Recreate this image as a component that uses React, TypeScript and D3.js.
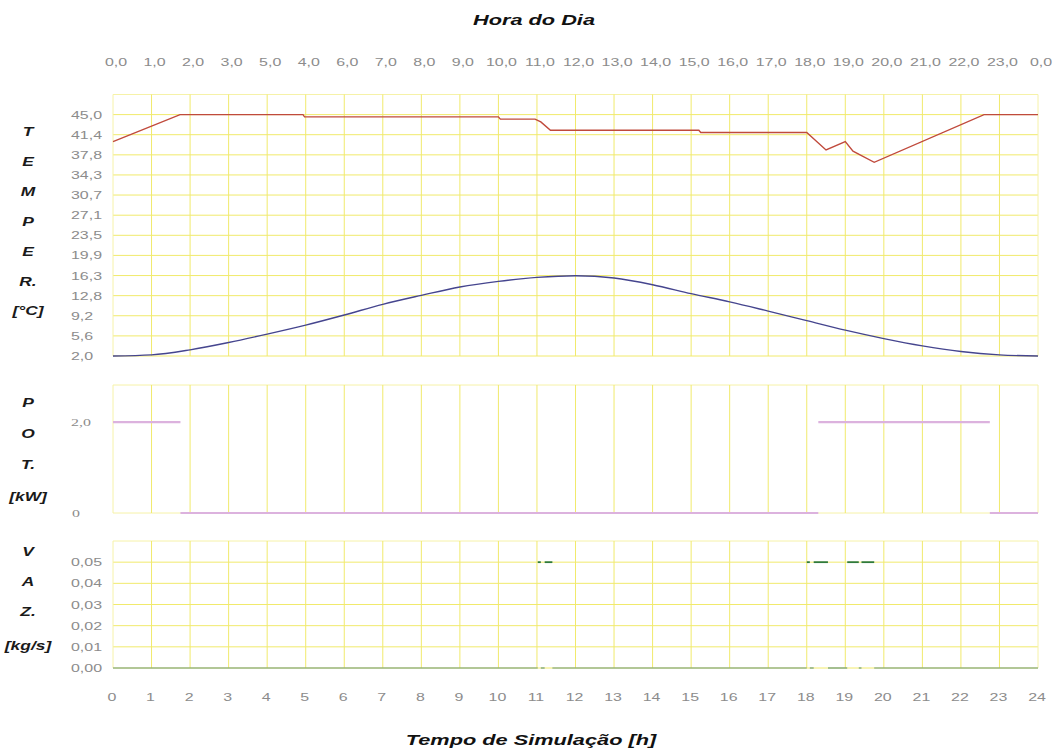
import React from "react";
import * as d3 from "d3";

// ---------- data ----------
const hourTicks = [0, 1, 2, 3, 4, 5, 6, 7, 8, 9, 10, 11, 12, 13, 14, 15, 16, 17, 18, 19, 20, 21, 22, 23, 24];
const dayHourLabels = ["0,0", "1,0", "2,0", "3,0", "5,0", "4,0", "6,0", "7,0", "8,0", "9,0", "10,0", "11,0", "12,0", "13,0", "14,0", "15,0", "16,0", "17,0", "18,0", "19,0", "20,0", "21,0", "22,0", "23,0", "0,0"];

const tempTickValues = [2.0, 5.58, 9.17, 12.75, 16.33, 19.92, 23.5, 27.08, 30.67, 34.25, 37.83, 41.42, 45.0];
const tempTickLabels = ["2,0", "5,6", "9,2", "12,8", "16,3", "19,9", "23,5", "27,1", "30,7", "34,3", "37,8", "41,4", "45,0"];

const potTickValues = [0, 2];
const potTickLabels = ["0", "2,0"];

const vazTickValues = [0, 0.01, 0.02, 0.03, 0.04, 0.05];
const vazTickLabels = ["0,00", "0,01", "0,02", "0,03", "0,04", "0,05"];

// tank water temperature
const tankHours = [0, 1.74, 4.93, 4.97, 10.0, 10.05, 10.95, 11.1, 11.35, 15.2, 15.25, 18.0, 18.5, 19.0, 19.2, 19.75, 22.6, 24];
const tankTemp = [40.2, 45.0, 45.0, 44.6, 44.6, 44.2, 44.2, 43.7, 42.2, 42.2, 41.8, 41.8, 38.7, 40.2, 38.5, 36.5, 45.0, 45.0];

// ambient temperature
const ambHours = [0, 1, 2, 3, 4, 5, 6, 7, 8, 9, 10, 11, 12, 13, 14, 15, 16, 17, 18, 19, 20, 21, 22, 23, 24];
const ambTemp = [2.0, 2.2, 3.1, 4.4, 5.9, 7.5, 9.3, 11.2, 12.8, 14.3, 15.3, 16.0, 16.3, 15.9, 14.7, 13.1, 11.65, 10.0, 8.3, 6.6, 5.1, 3.8, 2.8, 2.2, 2.0];

// heater power (step segments)
const powStart = [0, 1.75, 18.3, 22.75];
const powEnd = [1.75, 18.3, 22.75, 24];
const powValue = [2, 0, 2, 0];

// hot water flow (step segments)
const flowStart = [0, 11.02, 11.1, 11.2, 11.4, 18.0, 18.08, 18.18, 18.55, 19.05, 19.35, 19.42, 19.75];
const flowEnd = [11.02, 11.1, 11.2, 11.4, 18.0, 18.08, 18.18, 18.55, 19.05, 19.35, 19.42, 19.75, 24];
const flowValue = [0, 0.05, 0, 0.05, 0, 0.05, 0, 0.05, 0, 0.05, 0, 0.05, 0];

// ---------- layout ----------
const W = 1055;
const H = 753;
const X0 = 113;
const X1 = 1038;
const SX = 1.45; // horizontal stretch of the text

const GRID = "#f1ea6c";
const GRID_LIGHT = "#f6f2a8";
const TICK = "#8c8c8c";

const x = d3.scaleLinear().domain([0, 24]).range([X0, X1]);
const yT = d3.scaleLinear().domain([2, 48.58]).range([356, 94.5]);
const yP = d3.scaleLinear().domain([0, 2.82]).range([513, 385]);
const yV = d3.scaleLinear().domain([0, 0.06]).range([668, 541]);

type TProps = {
  x: number;
  y: number;
  size: number;
  anchor?: "start" | "middle" | "end";
  bold?: boolean;
  italic?: boolean;
  fill?: string;
  family?: string;
  children: React.ReactNode;
};
const T = ({ x: tx, y: ty, size, anchor = "start", bold, italic, fill = "#111", family = "'Liberation Sans', Arial, sans-serif", children }: TProps) => (
  <text
    transform={`translate(${tx},${ty}) scale(${SX},1)`}
    textAnchor={anchor}
    fontSize={size}
    fontWeight={bold ? "bold" : "normal"}
    fontStyle={italic ? "italic" : "normal"}
    fontFamily={family}
    fill={fill}
  >
    {children}
  </text>
);

const sideLetters = (letters: string[], ys: number[]) =>
  letters.map((l, i) => (
    <T key={l + i} x={28} y={ys[i] + 4} size={12} anchor="middle" bold italic fill="#1a1a1a">
      {l}
    </T>
  ));

export default function App() {
  const [t0, t1] = yT.range();
  const [p0, p1] = yP.range();
  const [v0, v1] = yV.range();

  const tankLine = d3
    .line<number>()
    .x((_, i) => x(tankHours[i]))
    .y((d) => yT(d));
  const ambLine = d3
    .line<number>()
    .x((_, i) => x(ambHours[i]))
    .y((d) => yT(d))
    .curve(d3.curveMonotoneX);

  const vGrid = (top: number, bottom: number, key: string) =>
    hourTicks.map((h) => (
      <line key={key + h} x1={x(h)} x2={x(h)} y1={top} y2={bottom} stroke={h === 0 || h === 24 ? GRID_LIGHT : GRID} strokeWidth={1} />
    ));

  return (
    <svg width={W} height={H} style={{ position: "absolute", left: 0, top: 0, background: "#fff" }}>
      <rect x={0} y={0} width={W} height={H} fill="#fff" />

      {/* titles */}
      <T x={534} y={25} size={15} anchor="middle" bold italic fill="#111">Hora do Dia</T>
      <T x={531} y={745} size={15} anchor="middle" bold italic fill="#111">Tempo de Simulação [h]</T>

      {/* top hour-of-day labels */}
      {hourTicks.map((h, i) => (
        <T key={"dl" + h} x={x(h) + 3} y={66} size={11} anchor="middle" fill={TICK}>
          {dayHourLabels[i]}
        </T>
      ))}

      {/* ---------- temperature panel ---------- */}
      {tempTickValues.map((v) => (
        <line key={"tg" + v} x1={X0} x2={X1} y1={yT(v)} y2={yT(v)} stroke={GRID} strokeWidth={1} />
      ))}
      <line x1={X0} x2={X1} y1={t1} y2={t1} stroke={GRID_LIGHT} strokeWidth={1} />
      {vGrid(t1, t0, "tv")}
      {tempTickValues.map((v, i) => (
        <T key={"tl" + v} x={71} y={yT(v) + 4} size={11} fill={TICK}>
          {tempTickLabels[i]}
        </T>
      ))}
      <path d={ambLine(ambTemp) || ""} fill="none" stroke="#45458e" strokeWidth={1.4} />
      <path d={tankLine(tankTemp) || ""} fill="none" stroke="#c04a3c" strokeWidth={1.4} />
      {sideLetters(["T", "E", "M", "P", "E", "R.", "[°C]"], [132, 162, 192, 222, 252, 282, 311])}

      {/* ---------- power panel ---------- */}
      <line x1={X0} x2={X1} y1={p1} y2={p1} stroke={GRID_LIGHT} strokeWidth={1} />
      <line x1={X0} x2={X1} y1={p0} y2={p0} stroke={GRID_LIGHT} strokeWidth={1} />
      {vGrid(p1, p0, "pv")}
      {potTickValues.map((v, i) => (
        <T key={"pl" + v} x={i === 0 ? 72 : 71} y={yP(v) + 4} size={11} fill={TICK} family="'Liberation Serif', 'Times New Roman', serif">
          {potTickLabels[i]}
        </T>
      ))}
      {powValue.map((v, i) => (
        <line key={"pw" + i} x1={x(powStart[i])} x2={x(powEnd[i])} y1={yP(v)} y2={yP(v)} stroke="#dcb2de" strokeWidth={2.2} />
      ))}
      {sideLetters(["P", "O", "T.", "[kW]"], [403, 434, 465, 497])}

      {/* ---------- flow panel ---------- */}
      {vazTickValues.map((v) => (
        <line key={"vg" + v} x1={X0} x2={X1} y1={yV(v)} y2={yV(v)} stroke={GRID} strokeWidth={1} />
      ))}
      <line x1={X0} x2={X1} y1={v1} y2={v1} stroke={GRID_LIGHT} strokeWidth={1} />
      {vGrid(v1, v0, "vv")}
      {vazTickValues.map((v, i) => (
        <T key={"vl" + v} x={71} y={yV(v) + 4} size={11} fill={TICK}>
          {vazTickLabels[i]}
        </T>
      ))}
      {flowValue.map((v, i) => (
        <line
          key={"fl" + i}
          x1={x(flowStart[i])}
          x2={x(flowEnd[i])}
          y1={yV(v)}
          y2={yV(v)}
          stroke={v > 0 ? "#2f7a3c" : "#6c9a78"}
          strokeWidth={v > 0 ? 1.8 : 1.2}
        />
      ))}
      {sideLetters(["V", "A", "Z.", "[kg/s]"], [552, 582, 612, 646])}

      {/* bottom simulation-time labels */}
      {hourTicks.map((h) => (
        <T key={"bl" + h} x={x(h) - 1} y={701} size={11} anchor="middle" fill={TICK}>
          {String(h)}
        </T>
      ))}
    </svg>
  );
}
